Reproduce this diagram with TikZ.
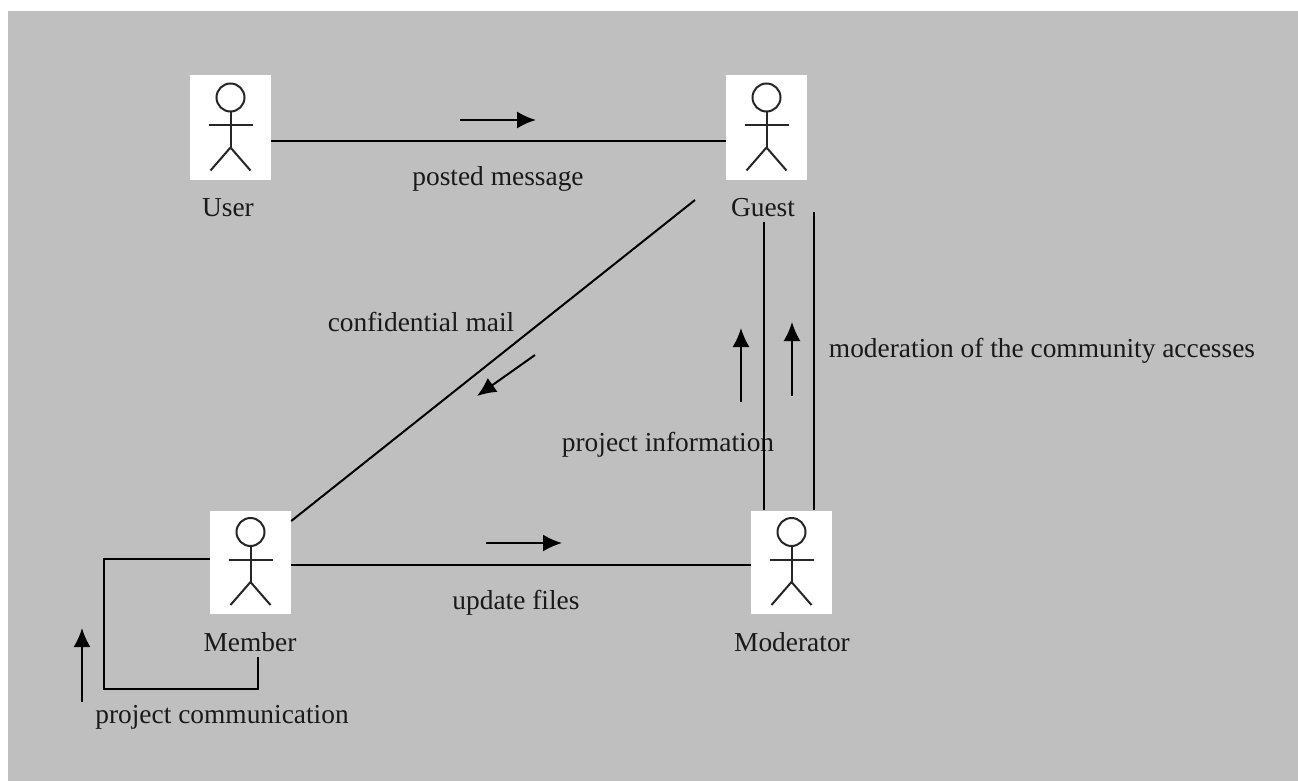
\documentclass[tikz,border=0pt]{standalone}
\usepackage{fontspec}
\setmainfont{Liberation Serif}
\usetikzlibrary{arrows.meta}
\tikzset{
	actorbox/.style={fill=white, minimum width=81pt, minimum height=103pt, inner sep=0pt},
	caption/.style={font=\fontsize{27.4}{30}\selectfont, text=black!90, inner sep=0pt},
	link/.style={line width=2pt},
	flow/.style={line width=2pt, -{Latex[length=19pt, width=17pt]}},
	pics/stickman/.style={code={
		\draw[line width=2pt, black!85] (0,-30) circle (14);
		\draw[line width=2pt, black!85] (0,-16) -- (0,20);
		\draw[line width=2pt, black!85] (-22,-2.5) -- (22,-2.5);
		\draw[line width=2pt, black!85] (-20,43) -- (0,20) -- (20,43);
	}}
}
\begin{document}
\begin{tikzpicture}[x=1pt, y=-1pt]
	\useasboundingbox (0,0) rectangle (1298,781);
	\fill[white] (0,0) rectangle (1298,781);
	\fill[black!25] (8,11) rectangle (1298,781);

	\node[actorbox, minimum height=105pt] (User) at (230.5,127.5) {};
	\node[actorbox, minimum height=105pt] (Guest) at (766.5,127.5) {};
	\node[actorbox] (Member) at (250.5,562) {};
	\node[actorbox] (Moderator) at (791.5,562) {};

	\foreach \who in {User, Guest, Member, Moderator}
		\pic at (\who) {stickman};

	\node[caption] (UserText) at (228,208) {User};
	\node[caption] (GuestText) at (763,208) {Guest};
	\node[caption] (MemberText) at (250,642) {Member};
	\node[caption] (ModeratorText) at (792,642) {Moderator};

	\node[caption] (postedText) at (498,179) {posted message};
	\node[caption] (mailText) at (421,322) {confidential mail};
	\node[caption] (infoText) at (668,445) {project information};
	\node[caption] (accessText) at (1042,351) {moderation of the community accesses};
	\node[caption] (filesText) at (516,603) {update files};
	\node[caption] (commText) at (222,717) {project communication};

	\coordinate (mailTop) at (695,200);
	\coordinate (infoTop) at (764,222);
	\coordinate (accessTop) at (814,212);
	\coordinate (loopA) at (104,559);
	\coordinate (loopB) at (104,689);
	\coordinate (loopC) at (258,689);
	\coordinate (loopEnd) at (258,657);

	\draw[link] ([yshift=-13.5pt]User.east) -- ([yshift=-13.5pt]Guest.west);
	\draw[link] ([yshift=41pt]Member.east) -- (mailTop);
	\draw[link] ([yshift=-3pt]Member.east) -- ([yshift=-3pt]Moderator.west);
	\draw[link] (infoTop) -- (infoTop |- Moderator.north);
	\draw[link] (accessTop) -- (accessTop |- Moderator.north);
	\draw[link] ([yshift=3pt]Member.west) -- (loopA) -- (loopB) -- (loopC) -- (loopEnd);

	% direction marks
	\coordinate (a1) at (460,120); \coordinate (b1) at (536,120);
	\coordinate (a2) at (486,543); \coordinate (b2) at (562,543);
	\coordinate (a3) at (535,355); \coordinate (b3) at (477,396);
	\coordinate (a4) at (741,402); \coordinate (b4) at (741,328);
	\coordinate (a5) at (792,396); \coordinate (b5) at (792,322);
	\coordinate (a6) at (82,702); \coordinate (b6) at (82,628);
	\foreach \i in {1,...,6}
		\draw[flow] (a\i) -- (b\i);
\end{tikzpicture}
\end{document}
